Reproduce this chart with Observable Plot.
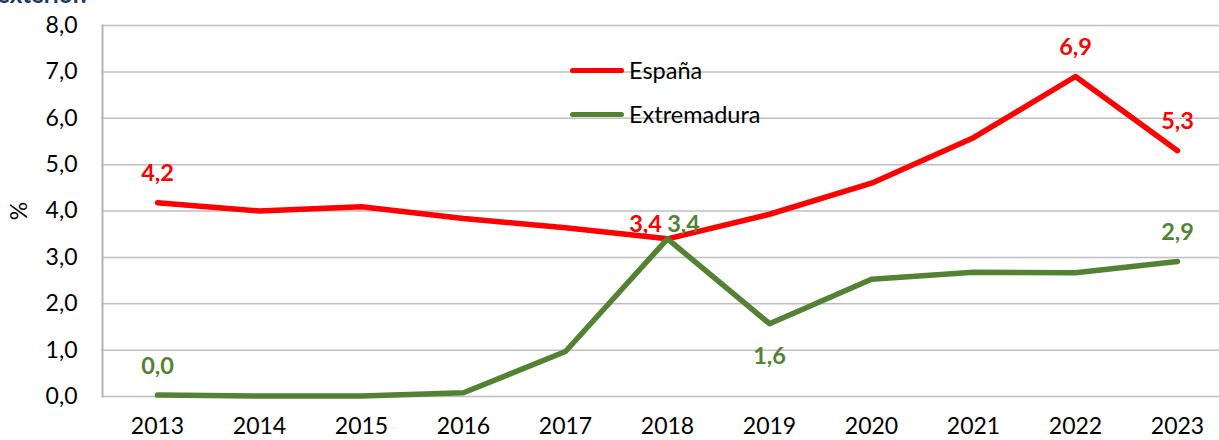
<!DOCTYPE html>
<html>
<head>
<meta charset="utf-8">
<script src="https://cdn.jsdelivr.net/npm/d3@7"></script>
<script src="https://cdn.jsdelivr.net/npm/@observablehq/plot@0.6"></script>
<style>
  html, body { margin: 0; padding: 0; background: #fff; overflow: hidden; }
  #wrap { position: relative; width: 1219px; height: 440px; font-family: Lato, "Open Sans", sans-serif; }
  #title { position: absolute; left: -3px; top: -21px; font-size: 24px; font-weight: bold; color: #1f3864; white-space: nowrap; }
  #legend { position: absolute; left: 570px; top: 48px; font-size: 23.5px; color: #000; }
  .item { display: flex; align-items: center; height: 44px; }
  .swatch { width: 54px; height: 5px; border-radius: 3px; margin-right: 5px; }
</style>
</head>
<body>
<div id="wrap">
  <div id="chart"></div>
  <div id="title">exterior.</div>
  <div id="legend"></div>
</div>
<script>
const years = [2013, 2014, 2015, 2016, 2017, 2018, 2019, 2020, 2021, 2022, 2023];
const seriesNames = ["España", "Extremadura"];
const seriesColors = ["#ff0000", "#548235"];
const espana = [4.18, 4.0, 4.09, 3.84, 3.64, 3.4, 3.93, 4.6, 5.58, 6.9, 5.3];
const extremadura = [0.03, 0.01, 0.01, 0.08, 0.97, 3.4, 1.57, 2.53, 2.68, 2.67, 2.91];
const yTicks = [0, 1, 2, 3, 4, 5, 6, 7, 8];
const espanaLabelYears = [2013, 2022, 2023];
const extremaduraLabelYears = [2013, 2023];

const data = [];
years.forEach((y, i) => {
  data.push({year: y, value: espana[i], series: seriesNames[0]});
  data.push({year: y, value: extremadura[i], series: seriesNames[1]});
});
const fmt = v => v.toFixed(1).replace(".", ",");
const lab = (name, yrs) => data.filter(d => d.series === name && yrs.includes(d.year));

const font = "Lato, 'Open Sans', sans-serif";
const lf = 23.5;

const chart = Plot.plot({
  width: 1219,
  height: 440,
  marginLeft: 102,
  marginRight: 0,
  marginTop: 25,
  marginBottom: 44,
  style: {fontFamily: font, fontSize: "23px", color: "#000", background: "#fff", overflow: "visible"},
  x: {type: "point", domain: years, range: [153, 1181], padding: 0},
  y: {domain: [0, 8]},
  color: {domain: seriesNames, range: seriesColors},
  marks: [
    Plot.gridY(yTicks, {stroke: "#bfbfbf", strokeOpacity: 1, strokeWidth: 1.5}),
    Plot.frame({anchor: "left", stroke: "#b4b4b4", strokeWidth: 2}),
    Plot.axisX({tickSize: 0, tickPadding: 21, fontSize: 23, label: null, tickFormat: d => String(d)}),
    Plot.axisY(yTicks, {tickSize: 0, tickPadding: 25, fontSize: 23, tickFormat: fmt, label: "%", labelAnchor: "center", labelArrow: "none", labelOffset: 92}),
    Plot.line(data, {x: "year", y: "value", z: "series", stroke: "series", strokeWidth: 5.5, strokeLinejoin: "round", strokeLinecap: "round"}),
    Plot.text(lab("España", espanaLabelYears), {x: "year", y: "value", text: d => fmt(d.value), fill: "series", fontWeight: "bold", fontSize: lf, dy: -29}),
    Plot.text(lab("Extremadura", extremaduraLabelYears), {x: "year", y: "value", text: d => fmt(d.value), fill: "series", fontWeight: "bold", fontSize: lf, dy: -29}),
    Plot.text(lab("España", [2018]), {x: "year", y: "value", text: d => fmt(d.value), fill: "series", fontWeight: "bold", fontSize: lf, dy: -14, dx: -22}),
    Plot.text(lab("Extremadura", [2018]), {x: "year", y: "value", text: d => fmt(d.value), fill: "series", fontWeight: "bold", fontSize: lf, dy: -14, dx: 16}),
    Plot.text(lab("Extremadura", [2019]), {x: "year", y: "value", text: d => fmt(d.value), fill: "series", fontWeight: "bold", fontSize: lf, dy: 33})
  ]
});
document.getElementById("chart").appendChild(chart);

const legend = document.getElementById("legend");
seriesNames.forEach((n, i) => {
  const item = document.createElement("div");
  item.className = "item";
  const sw = document.createElement("div");
  sw.className = "swatch";
  sw.style.background = seriesColors[i];
  const t = document.createElement("span");
  t.textContent = n;
  item.appendChild(sw);
  item.appendChild(t);
  legend.appendChild(item);
});
</script>
</body>
</html>
